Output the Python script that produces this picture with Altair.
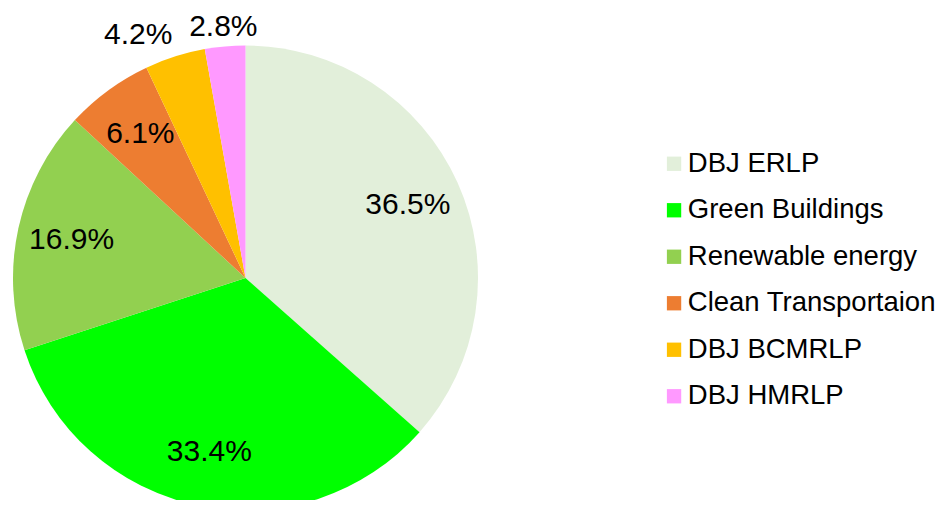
import altair as alt
import pandas as pd

categories = ["DBJ ERLP", "Green Buildings", "Renewable energy",
              "Clean Transportaion", "DBJ BCMRLP", "DBJ HMRLP"]
values = [36.5, 33.4, 16.9, 6.1, 4.2, 2.8]
labels = ["36.5%", "33.4%", "16.9%", "6.1%", "4.2%", "2.8%"]
colors = ["#E2EFDA", "#00FF00", "#92D050", "#ED7D31", "#FFC000", "#FF99FF"]

df = pd.DataFrame({
    "category": categories,
    "value": values,
    "label": labels,
    "idx": list(range(len(categories))),
})

cx, cy = 237.5, 270
R = 232.5
FONT = "Liberation Sans"

base = alt.Chart(df).encode(
    theta=alt.Theta("value:Q", stack=True),
    order=alt.Order("idx:Q"),
    x=alt.value(cx),
    y=alt.value(cy),
)

arcs = base.mark_arc(outerRadius=R, innerRadius=0, strokeWidth=0).encode(
    color=alt.Color(
        "category:N",
        scale=alt.Scale(domain=categories, range=colors),
        sort=categories,
        legend=alt.Legend(
            title=None,
            orient="none",
            legendX=652.3,
            legendY=142.0,
            symbolType="square",
            symbolSize=205,
            symbolStrokeWidth=0,
            labelFontSize=27.5,
            labelFont=FONT,
            labelColor="#000000",
            rowPadding=17.5,
            labelOffset=0,
            labelLimit=400,
            padding=0,
        ),
    )
)


def label_layer(cond, radius, dx=0, dy=0):
    return base.transform_calculate(
        txt=f"({cond}) ? datum.label : ''"
    ).mark_text(radius=radius, fontSize=30, font=FONT, color="#000000",
                align="center", baseline="middle", dx=dx, dy=dy
                ).encode(text="txt:N")


inside = label_layer("datum.value >= 5", 178)
out_a = label_layer("datum.value < 5 && datum.value >= 4", 255, dx=-30)
out_b = label_layer("datum.value < 4", 252)

chart = alt.layer(arcs, inside, out_a, out_b).properties(
    width=931, height=492,
    autosize=alt.AutoSizeParams(type="none"),
    padding=0,
).configure_view(stroke=None)

chart.save("out.html", embed_options={"renderer": "svg", "actions": False})
